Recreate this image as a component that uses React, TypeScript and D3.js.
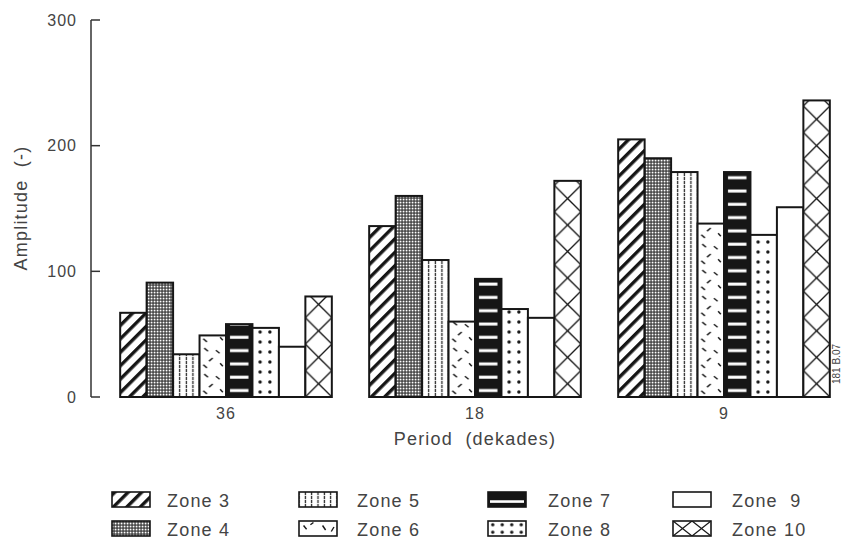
import React from "react";
import * as d3 from "d3";

const periods = ["36", "18", "9"];
const zoneNames = ["Zone 3", "Zone 4", "Zone 5", "Zone 6", "Zone 7", "Zone 8", "Zone  9", "Zone 10"];
const zone3Values = [67, 136, 205];
const zone4Values = [91, 160, 190];
const zone5Values = [34, 109, 179];
const zone6Values = [49, 60, 138];
const zone7Values = [58, 94, 179];
const zone8Values = [55, 70, 129];
const zone9Values = [40, 63, 151];
const zone10Values = [80, 172, 236];
const yTicks = [0, 100, 200, 300];

const series = [zone3Values, zone4Values, zone5Values, zone6Values, zone7Values, zone8Values, zone9Values, zone10Values];
const kinds = ["diag", "mesh", "vlines", "dashes", "hstripes", "dots", "plain", "lattice"];

const W = 842;
const H = 544;
const INK = "#161616";
const TXT = "#444";
const FONT = "'Liberation Sans', Arial, Helvetica, sans-serif";

function Pattern({ id, kind, x, y, tw, th, legend }: any) {
  const common = { id, patternUnits: "userSpaceOnUse", x, y, width: tw, height: th } as any;
  if (kind === "vlines") {
    return (
      <pattern {...common}>
        <rect width={tw} height={th} fill="#fff" />
        <rect x={tw / 2 - 0.6} y={0} width={1.2} height={th * 0.8} fill={INK} />
      </pattern>
    );
  }
  if (kind === "dashes") {
    const segs = legend
      ? [[0.12, 0.3, 0.2, 0.55], [0.3, 0.25, 0.38, 0.1], [0.62, 0.3, 0.7, 0.6], [0.85, 0.7, 0.92, 0.4]]
      : [[0.18, 0.12, 0.32, 0.24], [0.62, 0.2, 0.76, 0.32], [0.5, 0.5, 0.36, 0.62], [0.14, 0.76, 0.28, 0.88], [0.78, 0.7, 0.88, 0.82]];
    return (
      <pattern {...common}>
        <rect width={tw} height={th} fill="#fff" />
        {segs.map((s, i) => (
          <line key={i} x1={s[0] * tw} y1={s[1] * th} x2={s[2] * tw} y2={s[3] * th} stroke={INK} strokeWidth={1.4} />
        ))}
      </pattern>
    );
  }
  if (kind === "hstripes") {
    const inset = legend ? 2 : 4;
    return (
      <pattern {...common}>
        <rect width={tw} height={th} fill={INK} />
        <rect x={inset} y={legend ? th * 0.55 : th * 0.4} width={tw - 2 * inset} height={legend ? 2.6 : 3} fill="#fff" />
      </pattern>
    );
  }
  if (kind === "dots") {
    const cxs = legend ? [0.5] : [0.29, 0.66];
    return (
      <pattern {...common}>
        <rect width={tw} height={th} fill="#fff" />
        {cxs.map((c, i) => (
          <circle key={i} cx={c * tw} cy={th / 2} r={1.7} fill={INK} />
        ))}
      </pattern>
    );
  }
  if (kind === "lattice") {
    return (
      <pattern {...common}>
        <rect width={tw} height={th} fill="#fff" />
        <line x1={0} y1={0} x2={tw} y2={th} stroke={INK} strokeWidth={1.3} />
        <line x1={tw} y1={0} x2={0} y2={th} stroke={INK} strokeWidth={1.3} />
      </pattern>
    );
  }
  return null;
}

export default function App() {
  const y = d3.scaleLinear().domain([0, 300]).range([397, 20]);
  const x0 = d3.scaleBand<string>().domain(periods).range([101.5, 848.5]).paddingInner(0.15).paddingOuter(0.075);
  const x1 = d3.scaleBand<string>().domain(zoneNames).range([0, x0.bandwidth()]).padding(0);
  const bw = x1.bandwidth();
  const base = y(0);

  const barPatterns: any[] = [];
  const bars: any[] = [];
  periods.forEach((p, gi) => {
    zoneNames.forEach((z, zi) => {
      const v = series[zi][gi];
      const bx = (x0(p) as number) + (x1(z) as number);
      const kind = kinds[zi];
      let fill = "#fff";
      const pid = `bp-${gi}-${zi}`;
      if (kind === "diag") fill = "url(#diag)";
      else if (kind === "mesh") fill = "url(#mesh)";
      else if (kind !== "plain") {
        let tw = bw, th = 10, px = bx;
        if (kind === "vlines") { tw = bw / 4; th = 4; px = bx - bw / 8; }
        if (kind === "dashes") { th = 26; }
        if (kind === "hstripes") { th = 13.3; }
        if (kind === "dots") { th = 10; }
        if (kind === "lattice") { th = bw; }
        barPatterns.push(<Pattern key={pid} id={pid} kind={kind} x={px} y={base} tw={tw} th={th} />);
        fill = `url(#${pid})`;
      }
      bars.push(
        <rect key={`b-${gi}-${zi}`} x={bx} y={y(v)} width={bw} height={base - y(v)} fill={fill} stroke={INK} strokeWidth={2} />
      );
    });
  });

  const legendCols = [112, 299, 488, 673];
  const legendTextX = [167, 357, 548, 732];
  const legendRows = [492, 521];
  const sw = 38, sh = 15;
  const legendPatterns: any[] = [];
  const legendItems = zoneNames.map((z, zi) => {
    const col = Math.floor(zi / 2);
    const row = zi % 2;
    const lx = legendCols[col];
    const ly = legendRows[row];
    const kind = kinds[zi];
    const pid = `lp-${zi}`;
    let fill = "#fff";
    if (kind === "diag") fill = "url(#diag)";
    else if (kind === "mesh") fill = "url(#mesh)";
    else if (kind !== "plain") {
      let tw = sw, th = sh, px = lx;
      if (kind === "vlines") { tw = sw / 6; th = 4; px = lx - sw / 12; }
      if (kind === "dots") { tw = sw / 4; th = sh / 2; }
      if (kind === "lattice") { tw = sw / 2; th = sh; }
      legendPatterns.push(<Pattern key={pid} id={pid} kind={kind} x={px} y={ly} tw={tw} th={th} legend />);
      fill = `url(#${pid})`;
    }
    return (
      <g key={`l-${zi}`}>
        <rect x={lx} y={ly} width={sw} height={sh} fill={fill} stroke={INK} strokeWidth={1.6} />
        <text x={legendTextX[col]} y={ly + sh} fontSize={18} letterSpacing={1.2} fill={TXT} style={{ whiteSpace: "pre" }}>
          {z}
        </text>
      </g>
    );
  });

  return (
    <svg width={W} height={H} style={{ position: "absolute", left: 0, top: 0, background: "#fff" }} fontFamily={FONT}>
      <defs>
        <pattern id="diag" patternUnits="userSpaceOnUse" width={9.5} height={9.5} patternTransform="rotate(45)">
          <rect width={9.5} height={9.5} fill="#fff" />
          <rect x={0} y={0} width={3.4} height={9.5} fill={INK} />
        </pattern>
        <pattern id="mesh" patternUnits="userSpaceOnUse" width={3} height={3}>
          <rect width={3} height={3} fill="#2a2a2a" />
          <rect x={0.6} y={0.6} width={1.9} height={1.9} fill="#fff" />
        </pattern>
        {barPatterns}
        {legendPatterns}
      </defs>
      <rect width={W} height={H} fill="#fff" />

      {/* Y axis */}
      <line x1={91} x2={91} y1={y(300)} y2={y(0)} stroke="#333" strokeWidth={1.5} />
      {yTicks.map((t) => (
        <g key={t}>
          <line x1={91} x2={100} y1={y(t)} y2={y(t)} stroke="#333" strokeWidth={1.5} />
          <text x={77} y={y(t)} dy="0.35em" textAnchor="end" fontSize={16} letterSpacing={1} fill={TXT}>
            {t}
          </text>
        </g>
      ))}
      <text
        transform={`translate(27, 208) rotate(-90)`}
        textAnchor="middle"
        fontSize={18}
        letterSpacing={1.2}
        fill={TXT}
        style={{ whiteSpace: "pre" }}
      >
        {"Amplitude  (-)"}
      </text>

      {bars}

      {periods.map((p) => (
        <text key={p} x={(x0(p) as number) + x0.bandwidth() / 2} y={419} textAnchor="middle" fontSize={16} letterSpacing={1} fill={TXT}>
          {p}
        </text>
      ))}
      <text x={(x0("18") as number) + x0.bandwidth() / 2} y={445} textAnchor="middle" fontSize={18} letterSpacing={1.2} fill={TXT} style={{ whiteSpace: "pre" }}>
        {"Period  (dekades)"}
      </text>
      <text transform="translate(840, 364) rotate(-90)" textAnchor="middle" fontSize={10} fill={TXT}>
        181 B.07
      </text>

      {legendItems}
    </svg>
  );
}
